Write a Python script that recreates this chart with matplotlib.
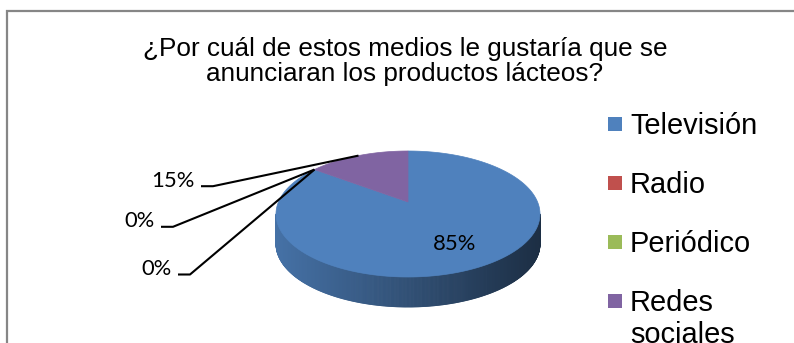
import numpy as np
import matplotlib.pyplot as plt
from matplotlib.patches import Polygon, Rectangle
from matplotlib.collections import PolyCollection
from matplotlib.colors import to_rgb

# survey answers
categories = ["Televisión", "Radio", "Periódico", "Redes sociales"]
values = [85, 0, 0, 15]
legend_labels = ["Televisión", "Radio", "Periódico", "Redes\nsociales"]
colors = ["#4f81bd", "#c0504d", "#9bbb59", "#8064a2"]
title = "¿Por cuál de estos medios le gustaría que se\nanunciaran los productos lácteos?"

W, H = 794, 343
fig = plt.figure(figsize=(W / 100, H / 100), dpi=100)
ax = fig.add_axes([0, 0, 1, 1])
ax.set_xlim(0, W)
ax.set_ylim(H, 0)   # pixel units, y going down
ax.axis("off")

# chart frame, runs off the right and bottom edges
ax.plot([7, 7, W + 5], [H + 5, 11, 11], color="#868686", lw=1.6,
        solid_joinstyle="miter")

# multi-line text: va="baseline" pins the last line
ax.text(405, 81, title, ha="center", va="baseline", fontsize=18.8,
        family="Liberation Sans", linespacing=1.04)

# 3d pie geometry
cx, cy = 408, 214     # centre of the rim ellipse
rx, ry = 132, 63
apex = (408, 202)     # slices meet here, a bit behind the centre
depth = 30


def rim_point(theta):
    # point where a ray from the apex at angle theta meets the rim
    dx, dy = rx * np.cos(theta), -ry * np.sin(theta)
    ox, oy = apex[0] - cx, apex[1] - cy
    a = (dx / rx) ** 2 + (dy / ry) ** 2
    b = 2 * (ox * dx / rx ** 2 + oy * dy / ry ** 2)
    c = (ox / rx) ** 2 + (oy / ry) ** 2 - 1
    t = (-b + np.sqrt(b * b - 4 * a * c)) / (2 * a)
    return apex[0] + t * dx, apex[1] + t * dy


total = sum(values)
cum = np.concatenate([[0], np.cumsum(values)]) / total
starts = np.deg2rad(90 - 360 * cum[:-1])   # clockwise from 12 o'clock
ends = np.deg2rad(90 - 360 * cum[1:])

# front wall of the pie, shaded left to right
phi = np.linspace(0, np.pi, 361)
ex = cx - rx * np.cos(phi)
ey = cy + ry * np.sin(phi)
verts, fcs = [], []
for i in range(len(phi) - 1):
    mx, my = (ex[i] + ex[i + 1]) / 2, (ey[i] + ey[i + 1]) / 2
    ang = np.degrees(np.arctan2(-(my - apex[1]) / ry, (mx - cx) / rx))
    d = (90 - ang) % 360
    k = min(np.searchsorted(cum * 360, d, side="right") - 1, len(values) - 1)
    f = 0.88 - 0.52 * (mx - (cx - rx)) / (2 * rx)
    fcs.append(np.array(to_rgb(colors[k])) * f)
    verts.append([(ex[i], ey[i]), (ex[i + 1], ey[i + 1]),
                  (ex[i + 1], ey[i + 1] + depth), (ex[i], ey[i] + depth)])
ax.add_collection(PolyCollection(verts, facecolors=fcs, edgecolors=fcs, lw=0.6))

# top face
for v, c, s, e in zip(values, colors, starts, ends):
    if v == 0:
        continue
    th = np.linspace(s, e, 200)
    px, py = rim_point(th)
    pts = np.column_stack([np.r_[apex[0], px], np.r_[apex[1], py]])
    ax.add_patch(Polygon(pts, closed=True, facecolor=c, edgecolor=c, lw=0.5))

# percentage labels
label_font = dict(family="Lato", fontsize=15.8, color="black")
label_pos = {"Televisión": (455, 250), "Radio": (155, 227.3),
             "Periódico": (172, 275), "Redes sociales": (195, 186.7)}
for cat, v, s, e in zip(categories, values, starts, ends):
    txt = f"{v / total:.0%}"
    x, y = label_pos[cat]
    if cat == "Televisión":
        ax.text(x, y, txt, ha="center", va="baseline", **label_font)
        continue
    ax.text(x, y, txt, ha="right", va="baseline", **label_font)
    tx, ty = rim_point((s + e) / 2)
    ax.plot([x + 6, x + 18, tx], [y - 0.5, y - 0.5, ty], color="black",
            lw=1.5, solid_capstyle="butt", zorder=5)

# legend
leg_line = 31.7
for i, (lab, c) in enumerate(zip(legend_labels, colors)):
    base = 134 + 59.2 * i
    ax.add_patch(Rectangle((608, base - 17.4), 14, 14, facecolor=c,
                           edgecolor="none"))
    last = base + leg_line * lab.count("\n")
    ax.text(630, last, lab, ha="left", va="baseline", fontsize=20.9,
            family="Liberation Sans", linespacing=1.2)

fig.savefig("out.png", dpi=100)
